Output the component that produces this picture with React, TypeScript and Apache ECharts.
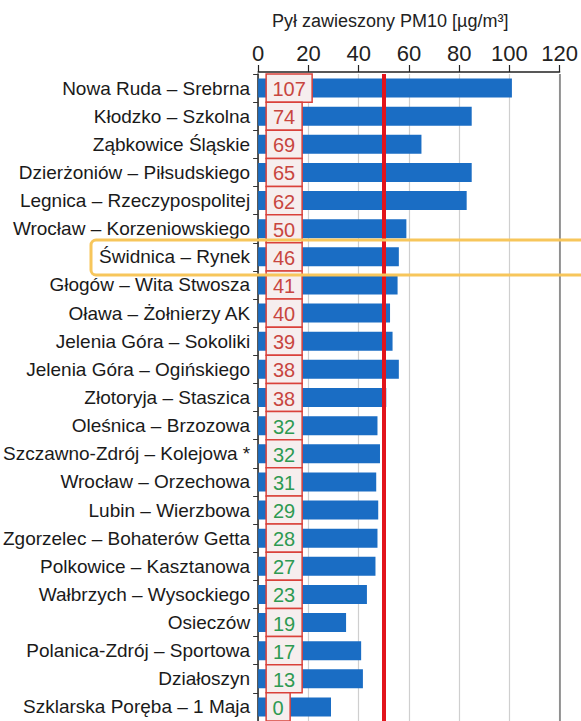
import React, { useEffect, useRef } from "react";
import * as echarts from "echarts";

const categories = [
  "Nowa Ruda – Srebrna",
  "Kłodzko – Szkolna",
  "Ząbkowice Śląskie",
  "Dzierżoniów – Piłsudskiego",
  "Legnica – Rzeczypospolitej",
  "Wrocław – Korzeniowskiego",
  "Świdnica – Rynek",
  "Głogów – Wita Stwosza",
  "Oława – Żołnierzy AK",
  "Jelenia Góra – Sokoliki",
  "Jelenia Góra – Ogińskiego",
  "Złotoryja – Staszica",
  "Oleśnica – Brzozowa",
  "Szczawno-Zdrój – Kolejowa *",
  "Wrocław – Orzechowa",
  "Lubin – Wierzbowa",
  "Zgorzelec – Bohaterów Getta",
  "Polkowice – Kasztanowa",
  "Wałbrzych – Wysockiego",
  "Osieczów",
  "Polanica-Zdrój – Sportowa",
  "Działoszyn",
  "Szklarska Poręba – 1 Maja",
];

const meanValues = [
  101, 85, 65, 85, 83, 59, 56, 55.5, 52.5, 53.5, 56, 51, 47.5, 48.5, 47, 47.8,
  47.5, 46.7, 43.3, 35, 41, 41.7, 29,
];

const exceedDays = [
  107, 74, 69, 65, 62, 50, 46, 41, 40, 39, 38, 38, 32, 32, 31, 29, 28, 27, 23,
  19, 17, 13, 0,
];

const xTicks = [0, 20, 40, 60, 80, 100, 120];
const limitValue = 50;
const axisTitle = "Pył zawieszony PM10 [µg/m³]";

const FONT = "'Liberation Sans Narrow', 'Arial Narrow', 'Liberation Sans', sans-serif";

export default function App() {
  const ref = useRef<HTMLDivElement>(null);

  useEffect(() => {
    if (!ref.current) return;
    const chart = echarts.init(ref.current, undefined, { renderer: "svg" });

    const option: any = {
      animation: false,
      backgroundColor: "#ffffff",
      grid: { left: 254, right: 21, top: 74, bottom: 0, containLabel: false },
      graphic: [
        {
          type: "text",
          left: 272,
          top: 12,
          style: {
            text: axisTitle,
            fontSize: 18,
            fontFamily: FONT,
            fill: "#222",
          },
        },
        {
          type: "rect",
          shape: { x: 91, y: 240, width: 510, height: 35, r: 5 },
          style: { fill: "none", stroke: "#f7c65b", lineWidth: 3 },
          z: 100,
        },
      ],
      xAxis: {
        type: "value",
        position: "top",
        offset: 2,
        min: xTicks[0],
        max: xTicks[xTicks.length - 1],
        interval: 20,
        axisLine: { show: true, lineStyle: { color: "#222", width: 1.5 } },
        axisTick: { show: true, length: 7, lineStyle: { color: "#222", width: 1.2 } },
        axisLabel: {
          fontSize: 22,
          fontFamily: FONT,
          color: "#222",
          margin: 8,
        },
        splitLine: { show: true, lineStyle: { color: "#cfcfcf", width: 1.2 } },
      },
      yAxis: {
        type: "category",
        data: categories,
        inverse: true,
        axisLine: { show: true, lineStyle: { color: "#222", width: 1.5 } },
        axisTick: { show: true, length: 5, lineStyle: { color: "#333" } },
        axisLabel: {
          fontSize: 19,
          fontFamily: FONT,
          color: "#1a1a1a",
          margin: 8,
        },
      },
      series: [
        {
          type: "bar",
          data: meanValues,
          barWidth: 19,
          itemStyle: { color: "#1a6dc4" },
          z: 2,
          markLine: {
            silent: true,
            symbol: "none",
            label: { show: false },
            data: [
              { xAxis: limitValue, lineStyle: { color: "#e2141c", width: 4, type: "solid" } },
              { xAxis: 120, lineStyle: { color: "#7a7a7a", width: 1.5, type: "solid" } },
            ],
          },
        },
        {
          type: "custom",
          z: 5,
          data: exceedDays.map((v, i) => [0, i, v]),
          encode: { x: 0, y: 1 },
          renderItem: (params: any, api: any) => {
            const idx = api.value(1);
            const v = api.value(2);
            const p = api.coord([0, idx]);
            const band = api.size([0, 1])[1];
            const txt = String(v);
            const w = txt.length === 1 ? 24 : txt.length === 2 ? 36 : 46;
            const h = band;
            const color = v > 35 ? "#c8463f" : "#2e9a52";
            return {
              type: "group",
              children: [
                {
                  type: "rect",
                  shape: { x: p[0] + 8, y: p[1] - h / 2, width: w, height: h },
                  style: { fill: "#f6eeee", stroke: "#d9413a", lineWidth: 1.5 },
                },
                {
                  type: "text",
                  style: {
                    x: p[0] + 8 + w / 2,
                    y: p[1] + 1,
                    text: txt,
                    align: "center",
                    verticalAlign: "middle",
                    fontSize: 20,
                    fontFamily: FONT,
                    fill: color,
                  },
                },
              ],
            };
          },
        },
      ],
    };

    chart.setOption(option);
    return () => chart.dispose();
  }, []);

  return (
    <div
      ref={ref}
      style={{ position: "fixed", left: 0, top: 0, width: 581, height: 721 }}
    />
  );
}
